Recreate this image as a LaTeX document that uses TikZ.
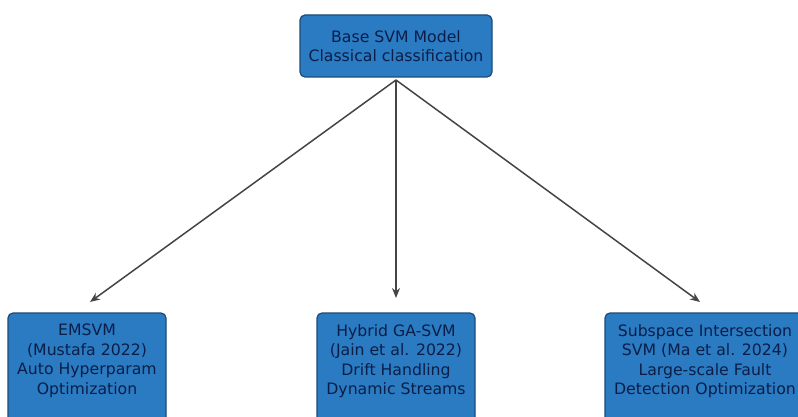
\documentclass[tikz,border=0pt]{standalone}
\usepackage{fontspec}
\setmainfont{DejaVu Sans}
\usetikzlibrary{arrows.meta}
\definecolor{boxfill}{HTML}{2A7BC2}
\definecolor{boxedge}{HTML}{1C4A78}
\definecolor{boxtext}{HTML}{0B1E48}
\definecolor{linkgray}{HTML}{454545}
\tikzset{
  modelbox/.style={draw=boxedge, line width=1.2pt, fill=boxfill, rounded corners=5pt},
  boxlabel/.style={text=boxtext, align=center, font=\fontsize{15.7}{19.5}\selectfont, inner sep=0pt},
  link/.style={draw=linkgray, line width=1.5pt, -{Stealth[length=10pt,width=8pt]}}
}
\begin{document}
\begin{tikzpicture}[x=1pt,y=-1pt]
  \useasboundingbox (0,0) rectangle (798,417);
  \fill[white] (0,0) rectangle (798,417);
  \clip (0,0) rectangle (798,417);

  % root model
  \draw[modelbox] (300,15) rectangle (492,77);
  \node[boxlabel] (base) at (396,46) {Base SVM Model\\Classical classification};
  \coordinate (root) at (396,80);

  % variants
  \draw[modelbox] (8,313) rectangle (166,425);
  \node[boxlabel] (emsvm) at (87,361) {EMSVM\\(Mustafa 2022)\\Auto Hyperparam\\Optimization};
  \coordinate (tipA) at (90,302);

  \draw[modelbox] (317,313) rectangle (475,425);
  \node[boxlabel] (gasvm) at (396,361) {Hybrid GA-SVM\\(Jain et al. 2022)\\Drift Handling\\Dynamic Streams};
  \coordinate (tipB) at (396,298);

  \draw[modelbox] (605,313) rectangle (812,425);
  \node[boxlabel] (sisvm) at (705,361) {Subspace Intersection\\SVM (Ma et al. 2024)\\Large-scale Fault\\Detection Optimization};
  \coordinate (tipC) at (700,302);

  % connectors
  \draw[link] (root) -- (tipA);
  \draw[link] (root) -- (tipB);
  \draw[link] (root) -- (tipC);
\end{tikzpicture}
\end{document}
